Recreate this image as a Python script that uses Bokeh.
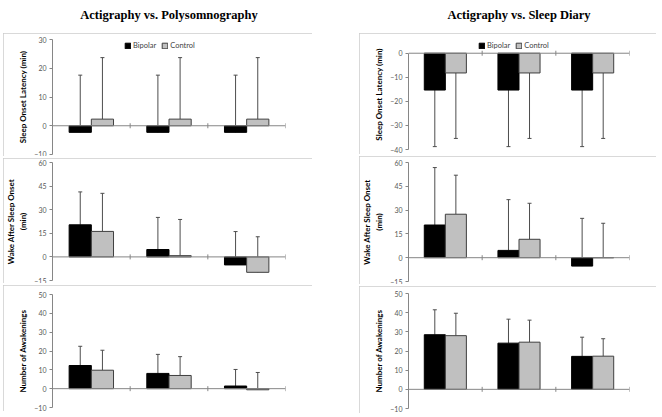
from bokeh.plotting import figure
from bokeh.layouts import row, column
from bokeh.models import (Range1d, FixedTicker, Span, Whisker, TeeHead, ColumnDataSource,
                          Legend, LegendItem)
from bokeh.embed import file_html
from bokeh.resources import INLINE

# ---------------- data ----------------
series = ["Bipolar", "Control"]
categories = ["1", "2", "3"]

# Actigraphy vs. Polysomnography
psg_sol_bip = [-2.3, -2.3, -2.3]
psg_sol_bip_sd = [19.9, 19.9, 19.9]
psg_sol_ctl = [2.3, 2.3, 2.3]
psg_sol_ctl_sd = [21.4, 21.4, 21.4]

psg_waso_bip = [20.4, 4.7, -5.1]
psg_waso_bip_sd = [20.9, 20.4, 21.2]
psg_waso_ctl = [16.2, 0.8, -9.8]
psg_waso_ctl_sd = [24.2, 23.0, 22.6]

psg_awk_bip = [12.3, 8.1, 1.4]
psg_awk_bip_sd = [10.2, 10.1, 8.8]
psg_awk_ctl = [9.8, 7.0, -0.6]
psg_awk_ctl_sd = [10.6, 10.0, 9.2]

# Actigraphy vs. Sleep Diary
dia_sol_bip = [-15.3, -15.3, -15.3]
dia_sol_bip_sd = [23.5, 23.5, 23.5]
dia_sol_ctl = [-8.2, -8.2, -8.2]
dia_sol_ctl_sd = [27.2, 27.2, 27.2]

dia_waso_bip = [20.6, 4.6, -5.3]
dia_waso_bip_sd = [36.2, 32.0, 30.1]
dia_waso_ctl = [27.4, 11.6, 0.0]
dia_waso_ctl_sd = [24.6, 22.7, 21.7]

dia_awk_bip = [28.5, 24.1, 17.2]
dia_awk_bip_sd = [13.0, 12.5, 10.0]
dia_awk_ctl = [28.0, 24.6, 17.3]
dia_awk_ctl_sd = [11.7, 11.5, 9.1]

ticks_sol_psg = [-10, 0, 10, 20, 30]
ticks_sol_dia = [-40, -30, -20, -10, 0]
ticks_waso = [-15, 0, 15, 30, 45, 60]
ticks_awk = [-10, 0, 10, 20, 30, 40, 50]

titles = ["Actigraphy vs. Polysomnography", "Actigraphy vs. Sleep Diary"]
ylabels = ["Sleep Onset Latency (min)", "Wake After Sleep Onset\n(min)", "Number of Awakenings"]

# ---------------- style ----------------
BIP_COLOR = "#000000"
CTL_COLOR = "#c0c0c0"
AXIS_COLOR = "#868686"
ERR_COLOR = "#4d4d4d"
BORDER_COLOR = "#cccccc"
FONT = "Lato"
BAR_W = 0.2857
OFF = 0.1429


def make_legend(rb, rc, loc):
    return Legend(items=[LegendItem(label=series[0], renderers=[rb]),
                         LegendItem(label=series[1], renderers=[rc])],
                  location=loc, orientation="horizontal",
                  label_text_font=FONT, label_text_font_size="7.5px",
                  glyph_width=7, glyph_height=7, label_height=9, label_standoff=2,
                  spacing=5, padding=0, margin=0,
                  border_line_color=None, background_fill_alpha=0)


def make_panel(w, h, yr, ticks, ylabel, bip, bip_sd, ctl, ctl_sd, down,
               b_top, b_bottom, b_right, legend_in=None, axis_bounds=None):
    p = figure(width=w, height=h, x_range=Range1d(0, len(categories)), y_range=Range1d(*yr),
               output_backend="svg", toolbar_location=None,
               min_border_left=39, min_border_right=b_right,
               min_border_top=b_top, min_border_bottom=b_bottom,
               styles={"outline": "1.5px solid " + BORDER_COLOR, "outline-offset": "-1.5px"})
    p.xaxis.visible = False
    p.grid.visible = False
    p.outline_line_color = None
    p.background_fill_color = None
    p.border_fill_color = "white"

    ax = p.yaxis[0]
    ax.ticker = FixedTicker(ticks=ticks)
    if axis_bounds is not None:
        ax.bounds = axis_bounds
    ax.axis_line_color = AXIS_COLOR
    ax.major_tick_line_color = AXIS_COLOR
    ax.major_tick_out = 3
    ax.major_tick_in = 0
    ax.minor_tick_line_color = None
    ax.major_label_text_font = FONT
    ax.major_label_text_font_size = "7px"
    ax.major_label_text_color = "#595959"
    ax.major_label_standoff = 3
    ax.axis_label = ylabel
    ax.axis_label_text_font = FONT
    ax.axis_label_text_font_size = "8px"
    ax.axis_label_text_font_style = "bold"
    ax.axis_label_text_color = "#000000"
    ax.axis_label_standoff = 3

    xc = [i + 0.5 for i in range(len(categories))]
    src = ColumnDataSource(dict(
        xb=[x - OFF for x in xc], xc=[x + OFF for x in xc],
        bip=bip, ctl=ctl,
        bip_end=[v - s if down else v + s for v, s in zip(bip, bip_sd)],
        ctl_end=[v - s if down else v + s for v, s in zip(ctl, ctl_sd)],
    ))
    rb = p.vbar(x="xb", top="bip", bottom=0, width=BAR_W, source=src,
                fill_color=BIP_COLOR, line_color="#000000", line_width=1)
    rc = p.vbar(x="xc", top="ctl", bottom=0, width=BAR_W, source=src,
                fill_color=CTL_COLOR, line_color="#3f3f3f", line_width=1)

    p.add_layout(Span(location=0, dimension="width", line_color=AXIS_COLOR, line_width=1))
    p.scatter(x=list(range(1, len(categories) + 1)), y=[0] * len(categories), marker="dash",
              angle=1.5708, size=5, line_color=AXIS_COLOR)

    for base, val, end in (("xb", "bip", "bip_end"), ("xc", "ctl", "ctl_end")):
        if down:
            wk = Whisker(source=src, base=base, lower=end, upper=val, dimension="height",
                         line_color=ERR_COLOR, line_width=1,
                         lower_head=TeeHead(size=4, line_color=ERR_COLOR, line_width=1),
                         upper_head=None)
        else:
            wk = Whisker(source=src, base=base, lower=val, upper=end, dimension="height",
                         line_color=ERR_COLOR, line_width=1,
                         upper_head=TeeHead(size=4, line_color=ERR_COLOR, line_width=1),
                         lower_head=None)
        p.add_layout(wk)

    if legend_in is not None:
        p.add_layout(make_legend(rb, rc, legend_in))
    return p


def make_title(w, h, text, mbr):
    t = figure(width=w, height=h, title=text, output_backend="svg", toolbar_location=None,
               x_range=Range1d(0, 1), y_range=Range1d(0, 1),
               min_border_left=39, min_border_right=mbr, min_border_top=0, min_border_bottom=0)
    t.axis.visible = False
    t.grid.visible = False
    t.outline_line_color = None
    t.title.align = "center"
    t.title.text_font = "Liberation Serif"
    t.title.text_font_size = "12.5px"
    t.title.text_font_style = "bold"
    t.title.text_color = "#000000"
    return t


WL, WR = 309, 297

tl = make_title(WL, 31, titles[0], 27)
pl1 = make_panel(WL, 123, (-10, 30), ticks_sol_psg, ylabels[0], psg_sol_bip, psg_sol_bip_sd,
                 psg_sol_ctl, psg_sol_ctl_sd, False, 6, 2, 10, legend_in=(72, 104))
pl2 = make_panel(WL, 125, (-15, 60), ticks_waso, ylabels[1], psg_waso_bip, psg_waso_bip_sd,
                 psg_waso_ctl, psg_waso_ctl_sd, False, 4, 3, 10)
pl3 = make_panel(WL, 126, (-10, 50), ticks_awk, ylabels[2], psg_awk_bip, psg_awk_bip_sd,
                 psg_awk_ctl, psg_awk_ctl_sd, False, 9, 4, 10)

tr = make_title(WR, 31, titles[1], 27)
pr1 = make_panel(WR, 121, (-40, 5.7), ticks_sol_dia, ylabels[0], dia_sol_bip, dia_sol_bip_sd,
                 dia_sol_ctl, dia_sol_ctl_sd, True, 6, 5, 8, legend_in=(70, 99),
                 axis_bounds=(-40, 0))
pr2 = make_panel(WR, 128, (-15, 60), ticks_waso, ylabels[1], dia_waso_bip, dia_waso_bip_sd,
                 dia_waso_ctl, dia_waso_ctl_sd, False, 6, 3, 8)
pr3 = make_panel(WR, 127, (-10, 50), ticks_awk, ylabels[2], dia_awk_bip, dia_awk_bip_sd,
                 dia_awk_ctl, dia_awk_ctl_sd, False, 7, 5, 8)

layout = row(column(tl, pl1, pl2, pl3, spacing=2),
             column(tr, pr1, pr2, pr3, spacing=2), spacing=47, margin=(0, 0, 0, 3))

open("out.html", "w").write(file_html(layout, INLINE))
